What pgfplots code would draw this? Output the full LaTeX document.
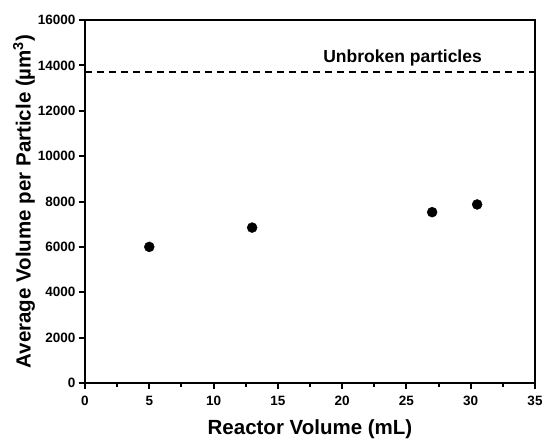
\documentclass[border=0pt]{standalone}
\usepackage{fontspec}
\setmainfont{Liberation Sans}
\usepackage{pgfplots}
\pgfplotsset{compat=1.18}
\begin{document}
\begin{tikzpicture}
\begin{axis}[
  name=ax,
  scale only axis,
  width=450pt, height=363pt,
  xmin=0, xmax=35, ymin=0, ymax=16000,
  xtick={0,5,...,35},
  minor xtick={2.5,7.5,...,32.5},
  ytick={0,2000,...,16000},
  tick align=outside,
  xtick pos=bottom, ytick pos=left,
  major tick length=6pt,
  minor tick length=3.5pt,
  every tick/.style={black, line width=2pt},
  axis line style={line width=2.8pt},
  scaled y ticks=false,
  /pgf/number format/assume math mode=true,
  /pgf/number format/set thousands separator={},
  ticklabel style={font=\fontsize{13.5}{15}\selectfont\bfseries},
  xticklabel style={yshift=-4pt},
  yticklabel style={xshift=0pt},
  xlabel={Reactor Volume (mL)},
  ylabel={Average Volume per Particle (µm\textsuperscript{3})},
  label style={font=\fontsize{20.5}{22}\selectfont\bfseries},
  xlabel style={yshift=-7pt},
  ylabel style={yshift=-4pt},
  clip=false,
]
\addplot[only marks, mark=*, mark size=5pt, black] coordinates {
  (5,6000) (13,6850) (27,7530) (30.5,7870)
};
\addplot[black, line width=1.6pt, dash pattern=on 7pt off 5pt] coordinates {
  (0,13700) (35,13700)
};
\node[font=\fontsize{17.5}{19}\selectfont\bfseries] at (axis cs:24.7,14330) {Unbroken particles};
\end{axis}
\pgfresetboundingbox
\path (ax.south west) ++(-85pt,-56pt) coordinate (bl);
\path (ax.north east) ++(7pt,20pt) coordinate (tr);
\path[use as bounding box] (bl) rectangle (tr);
\end{tikzpicture}
\end{document}
